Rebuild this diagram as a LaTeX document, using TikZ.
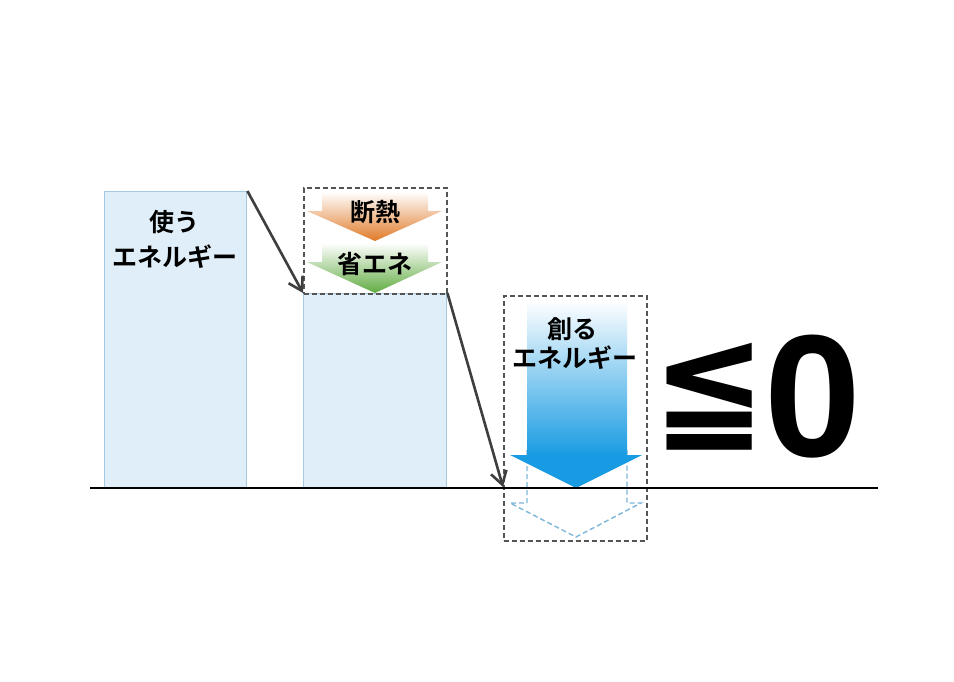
\documentclass[tikz,border=0pt]{standalone}
\usepackage{fontspec}
\usepackage{graphicx}
\usetikzlibrary{arrows.meta}
\newfontfamily\jpb{Noto Sans CJK JP Bold}
\newfontfamily\numb{Liberation Sans Bold}
\newfontfamily\symb{DejaVu Sans Bold}
\definecolor{boxfill}{HTML}{E0EEF9}
\definecolor{boxline}{HTML}{A3CAE2}
\definecolor{darkarr}{HTML}{3E3E3E}
\definecolor{dashgray}{HTML}{555555}
\definecolor{orangeA}{HTML}{E07A28}
\definecolor{greenA}{HTML}{62AC43}
\definecolor{blueA}{HTML}{189BE2}
\definecolor{blueD}{HTML}{7DB6DA}
\tikzset{
  energybox/.style={draw=boxline, fill=boxfill, line width=1.4pt, inner sep=0pt},
  dashbox/.style={draw=dashgray, line width=1.8pt, dash pattern=on 5pt off 3pt, inner sep=0pt},
  flowarrow/.style={draw=darkarr, line width=2.6pt, -{Straight Barb[length=13pt,width=16pt,line width=2.6pt]}},
  jlabel/.style={font=\jpb\fontsize{25}{30}\selectfont, text=black, inner sep=0pt},
}
\begin{document}
\begin{tikzpicture}[x=1pt,y=-1pt]
\useasboundingbox (0,0) rectangle (954,682);
\fill[white] (0,0) rectangle (954,682);
% boxes
\node[energybox, minimum width=142pt, minimum height=296pt, anchor=north west] (use) at (104,191) {};
\node[energybox, minimum width=143pt, minimum height=194pt, anchor=north west] (after) at (303,293) {};
% dashed boxes
\node[dashbox, minimum width=143pt, minimum height=106pt, anchor=north west] (savebox) at (303,187) {};
\node[dashbox, minimum width=143pt, minimum height=245pt, anchor=north west] (makebox) at (503,295) {};
% orange arrow
\shade[top color=white, bottom color=orangeA]
  (322,192) -- (428,192) -- (428,211) -- (442,211) -- (375,241) -- (307,211) -- (322,211) -- cycle;
% green arrow
\shade[top color=white, bottom color=greenA]
  (322,243) -- (428,243) -- (428,262) -- (442,262) -- (375,293) -- (307,262) -- (322,262) -- cycle;
% dashed outline arrow
\draw[blueD, line width=1.4pt, dash pattern=on 5pt off 3pt]
  (527,450) -- (527,503) -- (510,503) -- (576,537) -- (641,503) -- (627,503) -- (627,450);
% blue arrow
\shade[top color=white, bottom color=blueA] (527,300) rectangle (627,456);
\fill[blueA] (510,455) -- (642,455) -- (576,488) -- cycle;
% baseline
\coordinate (bl) at (90,487.5);
\coordinate (br) at (878,487.5);
\draw[black, line width=2pt] (bl) -- (br);
% flow arrows
\coordinate (ground) at (503,487);
\draw[flowarrow] (use.north east) -- (after.north west);
\draw[flowarrow] (after.north east) -- (ground);
% labels
\node[jlabel] (t1) at (174,222) {使う};
\node[jlabel] (t2) at (175,257) {エネルギー};
\node[jlabel] (t3) at (375,212) {断熱};
\node[jlabel] (t4) at (375,264) {省エネ};
\node[jlabel] (t5) at (572,329) {創る};
\node[jlabel] (t6) at (575,358) {エネルギー};
% result
\node[inner sep=0pt] (le) at (710,396.5) {\resizebox*{114pt}{107pt}{\symb ≦}};
\node[inner sep=0pt, font=\numb\fontsize{174}{180}\selectfont] (zero) at (813,397) {0};
\end{tikzpicture}
\end{document}
